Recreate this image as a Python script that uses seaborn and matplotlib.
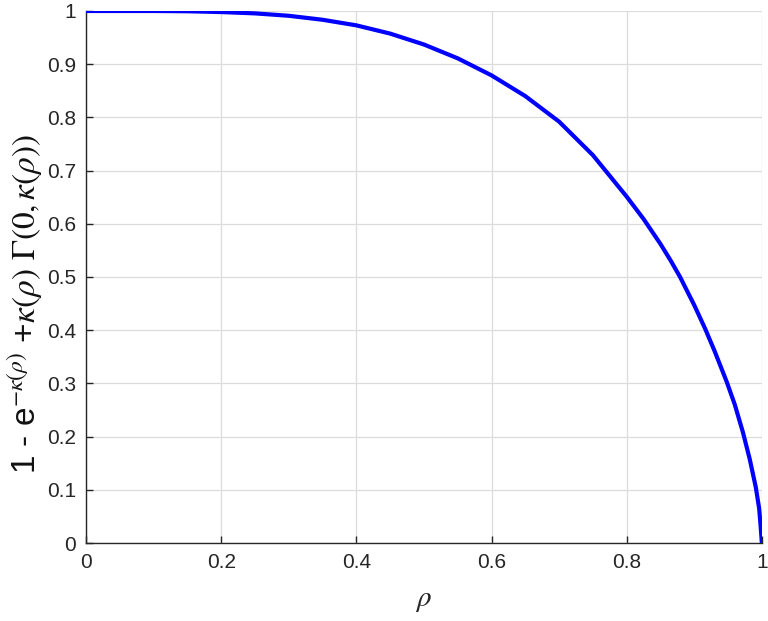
"""Curve 1 - e^{-k} + k*Gamma(0,k) against rho, MATLAB-like look."""
import matplotlib
matplotlib.use('Agg')
import matplotlib.pyplot as plt
from matplotlib.ticker import FuncFormatter
import pandas as pd
import seaborn as sns

# values
rho = [0.0, 0.05, 0.1, 0.15, 0.2, 0.25, 0.3, 0.35, 0.4, 0.45,
       0.5, 0.55, 0.6, 0.65, 0.7, 0.75, 0.8, 0.825, 0.85, 0.865,
       0.879, 0.9, 0.916, 0.93, 0.948, 0.96, 0.972, 0.982, 0.991, 0.996,
       0.998, 1.0]
value = [1.0, 1.0, 1.0, 0.9995, 0.998, 0.9955, 0.991, 0.9835, 0.973, 0.9575,
         0.937, 0.911, 0.879, 0.840, 0.792, 0.729, 0.651, 0.609, 0.562, 0.531,
         0.500, 0.447, 0.403, 0.361, 0.303, 0.260, 0.208, 0.158, 0.105, 0.065,
         0.035, 0.0]

x_ticks = [0, 0.2, 0.4, 0.6, 0.8, 1]
y_ticks = [0, 0.1, 0.2, 0.3, 0.4, 0.5, 0.6, 0.7, 0.8, 0.9, 1]

xlabel = r'$\rho$'
ylabel = r'1 - e$^{-\kappa(\rho)}$ +$\kappa(\rho)$ $\Gamma(0,\kappa(\rho))$'

sns.set_theme(style='whitegrid')
plt.rcParams['font.family'] = ['Liberation Sans', 'DejaVu Sans']
plt.rcParams['mathtext.fontset'] = 'stix'

df = pd.DataFrame({'rho': rho, 'value': value})

fig = plt.figure(figsize=(7.68, 6.21), dpi=100)
ax = fig.add_axes([0.112, 0.1256, 0.880, 0.8567])

sns.lineplot(data=df, x='rho', y='value', ax=ax, color='#0000ff',
             linewidth=3.0, zorder=3)

ax.set_xlim(0, 1)
ax.set_ylim(0, 1)
ax.set_xticks(x_ticks)
ax.set_yticks(y_ticks)
fmt = FuncFormatter(lambda v, pos: '%g' % round(v, 2))
ax.xaxis.set_major_formatter(fmt)
ax.yaxis.set_major_formatter(fmt)

ax.grid(True, color='#dcdcdc', linewidth=0.9)
for side in ['top', 'right']:
    ax.spines[side].set_visible(False)
for side in ['left', 'bottom']:
    ax.spines[side].set_visible(True)
    ax.spines[side].set_color('#262626')
    ax.spines[side].set_linewidth(1.0)

ax.tick_params(bottom=True, left=True, direction='in', length=5, width=1.0,
               color='#262626', labelsize=15, labelcolor='#262626', pad=7)

ax.set_xlabel(xlabel, fontsize=21, color='#262626', labelpad=10)
ax.set_ylabel(ylabel, fontsize=24, color='#111111')
ax.yaxis.set_label_coords(-0.06, 0.45)

fig.savefig('out.png', dpi=100, facecolor='white')
